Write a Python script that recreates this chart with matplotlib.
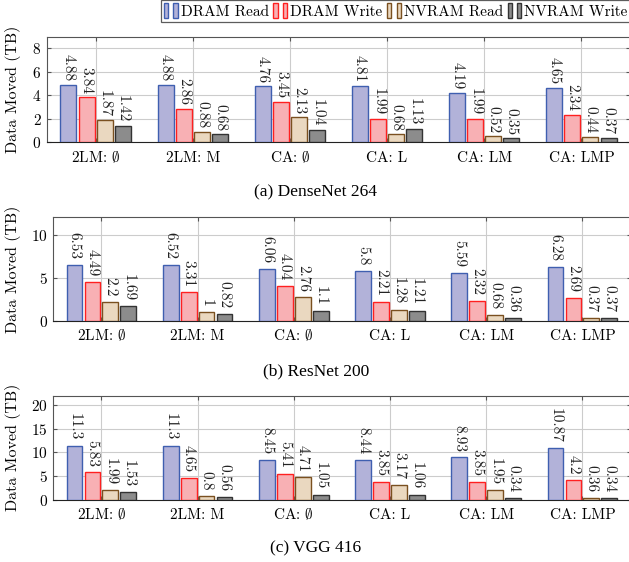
import matplotlib
matplotlib.use('Agg')
import matplotlib.pyplot as plt
from matplotlib.patches import Patch
from matplotlib.legend_handler import HandlerTuple

plt.rcParams['font.family'] = ['cmr10', 'DejaVu Serif']
plt.rcParams['axes.formatter.use_mathtext'] = True
plt.rcParams['mathtext.fontset'] = 'cm'

configs = ['2LM: $\\emptyset$', '2LM: M', 'CA: $\\emptyset$', 'CA: L', 'CA: LM', 'CA: LMP']
series = ['DRAM Read', 'DRAM Write', 'NVRAM Read', 'NVRAM Write']

densenet = [
    [4.88, 4.88, 4.76, 4.81, 4.19, 4.65],
    [3.84, 2.86, 3.45, 1.99, 1.99, 2.34],
    [1.87, 0.88, 2.13, 0.68, 0.52, 0.44],
    [1.42, 0.68, 1.04, 1.13, 0.35, 0.37],
]
resnet = [
    [6.53, 6.52, 6.06, 5.8, 5.59, 6.28],
    [4.49, 3.31, 4.04, 2.21, 2.32, 2.69],
    [2.2, 1, 2.76, 1.28, 0.68, 0.37],
    [1.69, 0.82, 1.1, 1.21, 0.36, 0.37],
]
vgg = [
    [11.3, 11.3, 8.45, 8.44, 8.93, 10.87],
    [5.83, 4.65, 5.41, 3.85, 3.85, 4.2],
    [1.99, 0.8, 4.71, 3.17, 1.95, 0.36],
    [1.53, 0.56, 1.05, 1.06, 0.34, 0.34],
]

fills = ['#b2b2d9', '#f8b0b4', '#ead8c0', '#8c8c8c']
edges = ['#3f5fb0', '#ff2020', '#7a5020', '#333333']
offsets = [-0.28, -0.093, 0.093, 0.28]

W, H = 629, 562
fig = plt.figure(figsize=(W / 100, H / 100), dpi=100)

panels = [
    # data, ylim, yticks, (left, right, top, bottom) px, caption, caption y, label gap
    (densenet, 9, [0, 2, 4, 6, 8], (47, 630, 36.7, 142.3), '(a) DenseNet 264', 192, 2.5),
    (resnet, 12, [0, 5, 10], (53.3, 630.5, 217.3, 321), '(b) ResNet 200', 371, 4),
    (vgg, 22, [0, 5, 10, 15, 20], (53.3, 630.5, 395.7, 499.7), '(c) VGG 416', 548, 4),
]

for data, ytop, yticks, (l, r, t, b), caption, cy, gap in panels:
    ax = fig.add_axes([l / W, 1 - b / H, (r - l) / W, (b - t) / H])
    x = list(range(len(configs)))
    for i, vals in enumerate(data):
        pos = [xi + offsets[i] for xi in x]
        bars = ax.bar(pos, vals, width=0.165, color=fills[i], edgecolor=edges[i],
                      linewidth=1.0, zorder=3)
        for rect, v in zip(bars, vals):
            ax.annotate(f'{v:g}', (rect.get_x() + rect.get_width() / 2, rect.get_height()),
                        xytext=(0, gap), textcoords='offset points', rotation=-90,
                        ha='center', va='bottom', fontsize=11, color='#222222')
    ax.set_xlim(-0.5, 5.5)
    ax.set_ylim(0, ytop)
    ax.set_yticks(yticks)
    ax.set_xticks(x)
    ax.set_xticklabels(configs, fontsize=11)
    for lbl in ax.get_xticklabels():
        lbl.set_verticalalignment('baseline')
    ax.tick_params(axis='y', labelsize=11, direction='in', right=True, length=3,
                   color='#555555', pad=4)
    ax.tick_params(axis='x', direction='in', top=True, length=3, color='#555555', pad=14)
    ax.grid(True, color='#cccccc', linewidth=0.8, zorder=0)
    ax.set_axisbelow(True)
    for side in ['left', 'right', 'top']:
        ax.spines[side].set_color('#555555')
    ax.spines['bottom'].set_color('#222222')
    ax.set_ylabel('Data Moved (TB)', fontsize=11.5)
    ax.yaxis.set_label_coords(-(l - 21) / (r - l), 0.5)
    fig.text(316 / W, 1 - cy / H, caption, ha='center', va='center',
             fontsize=12.5, family='Liberation Serif')

handles = [(Patch(facecolor=fills[i], edgecolor=edges[i]),
            Patch(facecolor=fills[i], edgecolor=edges[i])) for i in range(4)]
leg = fig.legend(handles, series, loc='upper right', bbox_to_anchor=(1.003, 1.0),
                 ncol=4, fontsize=11, frameon=True, fancybox=False,
                 handler_map={tuple: HandlerTuple(ndivide=None, pad=0.35)},
                 handlelength=0.9, handleheight=1.1, handletextpad=0.2,
                 columnspacing=0.3, borderpad=0.2, borderaxespad=0.0)
leg.get_frame().set_edgecolor('#333333')
leg.get_frame().set_linewidth(0.9)

fig.savefig('out.png', dpi=100)
